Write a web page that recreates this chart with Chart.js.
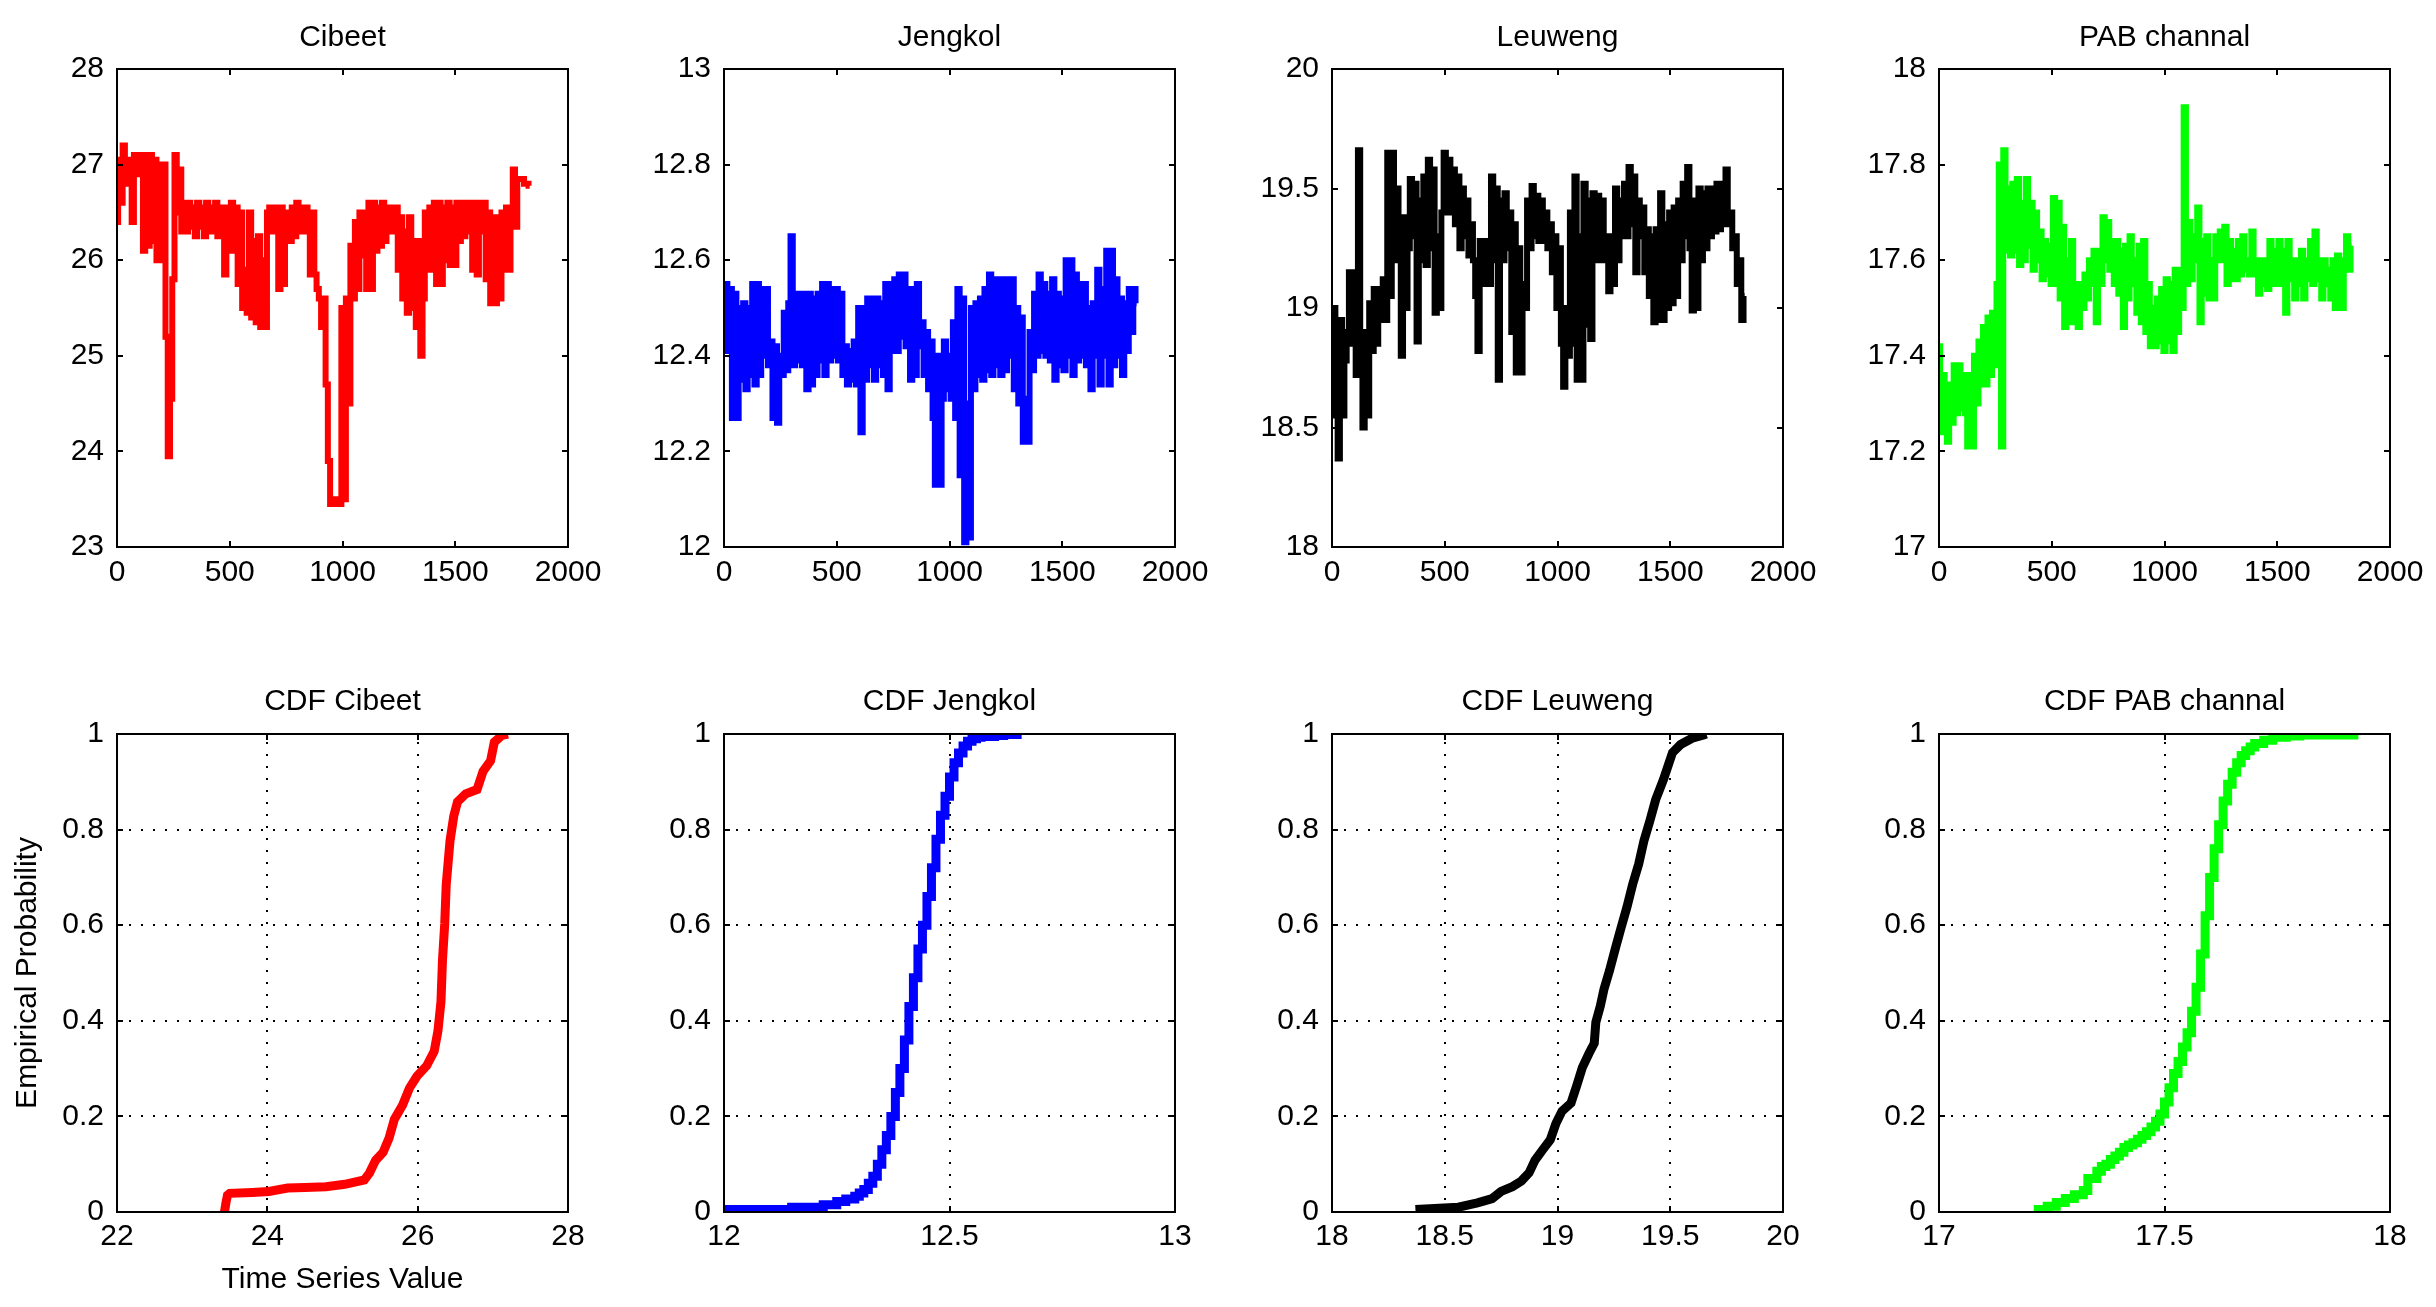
<!DOCTYPE html>
<html>
<head>
<meta charset="utf-8">
<script src="https://cdn.jsdelivr.net/npm/chart.js@4.4.1/dist/chart.umd.min.js"></script>
<style>
html, body { margin: 0; padding: 0; background: #ffffff; width: 2436px; height: 1307px; overflow: hidden; }
canvas { position: absolute; }
</style>
</head>
<body>
<script>
// ---------------- DATA ----------------
// Time series: one value every 10 samples, starting at sample 0
const sampleStep = 10;

const cibeetSeries = [
  26.4, 27.05, 26.6, 27.2, 26.8, 27.05, 26.8, 26.4, 27.1, 26.9,
  27.1, 26.9, 26.1, 27.1, 26.15, 27.1, 26.2, 27.05, 26.0, 27.0,
  26.0, 27.0, 25.2, 23.95, 24.55, 25.8, 27.1, 26.5, 26.95, 26.3,
  26.6, 26.3, 26.6, 26.35, 26.55, 26.25, 26.6, 26.35, 26.55, 26.25,
  26.6, 26.3, 26.55, 26.3, 26.6, 26.25, 26.55, 26.4, 25.85, 26.55,
  26.1, 26.6, 26.1, 26.55, 25.75, 26.5, 25.5, 25.9, 25.45, 26.5,
  25.4, 26.2, 25.35, 26.25, 25.3, 26.0, 25.3, 26.5, 26.55, 26.3,
  26.55, 26.35, 25.7, 26.55, 25.75, 26.5, 26.3, 26.2, 26.55, 26.25,
  26.6, 26.3, 26.55, 26.3, 26.55, 26.3, 25.85, 26.5, 25.85, 25.7,
  25.6, 25.3, 25.6, 24.7, 23.9, 23.45, 23.5, 23.45, 23.5, 23.45,
  25.5, 23.5, 25.6, 24.5, 26.15, 25.6, 26.4, 25.7, 26.5, 26.05,
  26.5, 25.7, 26.6, 25.7, 26.6, 26.1, 26.55, 26.15, 26.6, 26.2,
  26.55, 26.3, 26.55, 26.3, 26.55, 25.9, 26.45, 25.6, 26.3, 25.45,
  26.45, 25.5, 26.2, 25.3, 26.2, 25.0, 25.6, 26.5, 25.9, 26.55,
  25.9, 26.6, 25.75, 26.6, 25.75, 26.55, 26.0, 26.6, 25.95, 26.55,
  25.95, 26.6, 26.2, 26.6, 26.25, 26.6, 26.3, 26.6, 25.9, 26.6,
  25.85, 26.6, 26.3, 26.6, 25.8, 26.5, 25.55, 26.45, 25.55, 26.45,
  25.6, 26.5, 25.9, 26.55, 25.9, 26.5, 26.95, 26.35, 26.85, 26.85,
  26.85, 26.8, 26.8, 26.78
];

const jengkolSeries = [
  12.45, 12.55, 12.41, 12.54, 12.27, 12.53, 12.27, 12.5, 12.35, 12.51,
  12.33, 12.5, 12.36, 12.55, 12.34, 12.55, 12.36, 12.54, 12.4, 12.54,
  12.38, 12.43, 12.27, 12.42, 12.26, 12.4, 12.36, 12.49, 12.37, 12.51,
  12.65, 12.38, 12.53, 12.39, 12.53, 12.38, 12.53, 12.33, 12.53, 12.34,
  12.52, 12.36, 12.53, 12.39, 12.55, 12.36, 12.55, 12.39, 12.54, 12.4,
  12.54, 12.39, 12.53, 12.36, 12.42, 12.34, 12.41, 12.35, 12.43, 12.34,
  12.5, 12.24, 12.5, 12.35, 12.52, 12.38, 12.52, 12.35, 12.52, 12.38,
  12.51, 12.36, 12.55, 12.33, 12.55, 12.41, 12.56, 12.41, 12.57, 12.44,
  12.57, 12.42, 12.54, 12.35, 12.54, 12.36, 12.55, 12.42, 12.47, 12.36,
  12.45, 12.33, 12.43, 12.27, 12.13, 12.4, 12.13, 12.31, 12.43, 12.33,
  12.4, 12.31, 12.47, 12.27, 12.54, 12.15, 12.52, 12.01, 12.3, 12.02,
  12.5, 12.33, 12.51, 12.36, 12.52, 12.35, 12.54, 12.37, 12.57, 12.36,
  12.56, 12.38, 12.56, 12.36, 12.56, 12.37, 12.56, 12.4, 12.56, 12.33,
  12.5, 12.3, 12.48, 12.22, 12.31, 12.22, 12.45, 12.37, 12.53, 12.4,
  12.57, 12.41, 12.55, 12.4, 12.53, 12.39, 12.56, 12.35, 12.53, 12.38,
  12.52, 12.37, 12.6, 12.4, 12.6, 12.36, 12.57, 12.39, 12.55, 12.4,
  12.55, 12.38, 12.5, 12.33, 12.51, 12.4, 12.58, 12.34, 12.54, 12.4,
  12.62, 12.34, 12.62, 12.38, 12.56, 12.4, 12.52, 12.36, 12.51, 12.41,
  12.54, 12.45, 12.54, 12.51
];

const leuwengSeries = [
  18.62, 19.0, 18.55, 18.37, 18.95, 18.55, 18.78, 18.9, 19.15, 18.85,
  19.15, 18.72, 19.66, 18.72, 18.5, 18.9, 18.55, 19.02, 18.82, 19.08,
  18.85, 19.08, 18.95, 19.12, 18.95, 19.65, 19.05, 19.65, 19.2, 19.5,
  19.25, 18.8, 19.38, 19.0, 19.25, 19.54, 19.3, 19.52, 18.86, 19.45,
  19.2, 19.55, 19.18, 19.62, 19.25, 19.58, 18.98, 19.3, 19.0, 19.4,
  19.65, 19.4, 19.62, 19.4, 19.58, 19.35, 19.55, 19.25, 19.5, 19.3,
  19.45, 19.22, 19.35, 19.2, 19.05, 18.82, 19.28, 19.1, 19.28, 19.25,
  19.1, 19.55, 19.2, 19.5, 18.7, 19.45, 19.2, 19.48, 19.25, 19.4,
  18.9, 19.35, 18.73, 19.25, 18.73, 19.1, 19.0, 19.45, 19.25, 19.51,
  19.3, 19.47, 19.28, 19.45, 19.28, 19.4, 19.25, 19.35, 19.15, 19.3,
  19.0, 19.25, 18.85, 18.67, 19.0, 18.8, 19.4, 18.85, 19.55, 18.7,
  19.3, 18.7, 19.52, 18.93, 19.45, 18.87, 19.48, 19.2, 19.47, 19.2,
  19.45, 19.2, 19.3, 19.07, 19.3, 19.1, 19.5, 19.2, 19.45, 19.3,
  19.52, 19.3, 19.59, 19.35, 19.55, 19.15, 19.45, 19.3, 19.42, 19.15,
  19.33, 19.05, 19.3, 18.94, 19.33, 18.95, 19.48, 18.95, 19.35, 19.0,
  19.4, 19.02, 19.42, 19.05, 19.45, 19.2, 19.52, 19.3, 19.59, 19.25,
  18.99, 19.45, 19.0, 19.5, 19.2, 19.48, 19.25, 19.5, 19.3, 19.5,
  19.32, 19.52, 19.33, 19.52, 19.35, 19.58, 19.35, 19.4, 19.25, 19.3,
  19.1, 19.2, 18.95, 19.05
];

const pabSeries = [
  17.42, 17.24, 17.36, 17.26, 17.22, 17.34, 17.26, 17.38, 17.28, 17.38,
  17.29, 17.36, 17.28, 17.21, 17.36, 17.21, 17.4, 17.3, 17.43, 17.34,
  17.46, 17.34, 17.48, 17.36, 17.49, 17.38, 17.55, 17.8, 17.21, 17.83,
  17.62, 17.75, 17.61, 17.76, 17.62, 17.77, 17.59, 17.72, 17.6, 17.77,
  17.63, 17.72, 17.58, 17.7, 17.6, 17.66, 17.56, 17.64, 17.57, 17.63,
  17.55, 17.73, 17.55, 17.72, 17.52, 17.67, 17.46, 17.6, 17.47, 17.64,
  17.47, 17.55, 17.46, 17.55, 17.5, 17.57, 17.52, 17.6, 17.55, 17.62,
  17.47, 17.62, 17.55, 17.69, 17.6, 17.68, 17.58, 17.64, 17.55, 17.64,
  17.53, 17.62, 17.46, 17.63, 17.52, 17.65, 17.55, 17.6, 17.49, 17.63,
  17.47, 17.64, 17.45, 17.55, 17.42, 17.5, 17.42, 17.52, 17.43, 17.54,
  17.41, 17.56, 17.43, 17.55, 17.41, 17.58, 17.45, 17.58, 17.5, 17.92,
  17.55, 17.68, 17.56, 17.65, 17.6, 17.71, 17.47, 17.64, 17.53, 17.65,
  17.52, 17.6, 17.52, 17.65, 17.6, 17.66, 17.6, 17.67, 17.55, 17.64,
  17.56, 17.62, 17.56, 17.64, 17.57, 17.65, 17.58, 17.6, 17.57, 17.66,
  17.57, 17.6, 17.53, 17.6, 17.55, 17.6, 17.54, 17.64, 17.55, 17.62,
  17.55, 17.64, 17.55, 17.62, 17.49, 17.64, 17.56, 17.6, 17.52, 17.6,
  17.55, 17.62, 17.52, 17.6, 17.56, 17.64, 17.55, 17.66, 17.56, 17.6,
  17.52, 17.6, 17.55, 17.58, 17.52, 17.6, 17.5, 17.61, 17.53, 17.5,
  17.6, 17.65, 17.58, 17.63
];

// Empirical CDFs (value, probability)
const cdfCibeetX = [23.43, 23.45, 23.47, 23.5, 23.8, 24.02, 24.27, 24.5, 24.78, 25.03, 25.29, 25.36, 25.44, 25.54, 25.62, 25.69, 25.8, 25.89, 25.99, 26.12, 26.22, 26.27, 26.31, 26.33, 26.36, 26.38, 26.43, 26.48, 26.53, 26.64, 26.79, 26.87, 26.97, 27.02, 27.12, 27.2];
const cdfCibeetP = [0, 0.02, 0.035, 0.039, 0.041, 0.043, 0.05, 0.051, 0.053, 0.058, 0.067, 0.082, 0.108, 0.125, 0.155, 0.194, 0.224, 0.259, 0.284, 0.306, 0.336, 0.379, 0.44, 0.526, 0.603, 0.685, 0.776, 0.828, 0.858, 0.875, 0.884, 0.922, 0.944, 0.983, 0.997, 1.0];

const cdfJengkolX = [12.0, 12.15, 12.22, 12.25, 12.27, 12.29, 12.3, 12.31, 12.32, 12.33, 12.34, 12.35, 12.36, 12.37, 12.38, 12.39, 12.4, 12.41, 12.42, 12.43, 12.44, 12.45, 12.46, 12.47, 12.48, 12.49, 12.5, 12.51, 12.52, 12.53, 12.54, 12.55, 12.56, 12.57, 12.6, 12.62, 12.65];
const cdfJengkolP = [0.005, 0.01, 0.015, 0.022, 0.027, 0.033, 0.04, 0.047, 0.06, 0.075, 0.1, 0.13, 0.16, 0.2, 0.25, 0.3, 0.36, 0.43, 0.49, 0.55, 0.6, 0.66, 0.72, 0.78, 0.83, 0.87, 0.91, 0.94, 0.96, 0.975, 0.985, 0.99, 0.993, 0.995, 0.997, 0.999, 1.0];

const cdfLeuwengX = [18.37, 18.56, 18.645, 18.71, 18.75, 18.8, 18.84, 18.874, 18.9, 18.934, 18.968, 18.993, 19.02, 19.06, 19.087, 19.11, 19.14, 19.163, 19.17, 19.19, 19.206, 19.23, 19.257, 19.282, 19.308, 19.333, 19.36, 19.383, 19.41, 19.435, 19.47, 19.495, 19.51, 19.546, 19.597, 19.648, 19.66];
const cdfLeuwengP = [0.005, 0.01, 0.019, 0.028, 0.043, 0.053, 0.065, 0.082, 0.108, 0.13, 0.151, 0.185, 0.211, 0.228, 0.267, 0.302, 0.332, 0.353, 0.397, 0.431, 0.466, 0.504, 0.552, 0.595, 0.638, 0.685, 0.728, 0.776, 0.819, 0.862, 0.905, 0.94, 0.961, 0.978, 0.991, 0.998, 1.0];

const cdfPabX = [17.21, 17.24, 17.26, 17.28, 17.3, 17.32, 17.33, 17.35, 17.36, 17.37, 17.38, 17.39, 17.4, 17.41, 17.42, 17.43, 17.44, 17.45, 17.46, 17.47, 17.48, 17.49, 17.5, 17.51, 17.52, 17.53, 17.54, 17.55, 17.56, 17.57, 17.58, 17.59, 17.6, 17.61, 17.62, 17.63, 17.64, 17.65, 17.66, 17.67, 17.68, 17.69, 17.7, 17.72, 17.74, 17.77, 17.8, 17.92];
const cdfPabP = [0.005, 0.012, 0.02, 0.028, 0.036, 0.045, 0.07, 0.085, 0.095, 0.1, 0.11, 0.117, 0.125, 0.135, 0.14, 0.145, 0.152, 0.16, 0.168, 0.178, 0.19, 0.205, 0.23, 0.26, 0.29, 0.315, 0.345, 0.375, 0.42, 0.47, 0.54, 0.62, 0.7, 0.76, 0.81, 0.86, 0.895, 0.92, 0.94, 0.955, 0.965, 0.973, 0.98, 0.987, 0.993, 0.996, 0.998, 1.0];

// Titles and ticks
const seriesTitles = ['Cibeet', 'Jengkol', 'Leuweng', 'PAB channal'];
const cdfTitles = ['CDF Cibeet', 'CDF Jengkol', 'CDF Leuweng', 'CDF PAB channal'];
const tsXTicks = [0, 500, 1000, 1500, 2000];
const cibeetYTicks = [23, 24, 25, 26, 27, 28];
const jengkolYTicks = [12, 12.2, 12.4, 12.6, 12.8, 13];
const leuwengYTicks = [18, 18.5, 19, 19.5, 20];
const pabYTicks = [17, 17.2, 17.4, 17.6, 17.8, 18];
const cdfYTicks = [0, 0.2, 0.4, 0.6, 0.8, 1];
const cdfCibeetXTicks = [22, 24, 26, 28];
const cdfJengkolXTicks = [12, 12.5, 13];
const cdfLeuwengXTicks = [18, 18.5, 19, 19.5, 20];
const cdfPabXTicks = [17, 17.5, 18];
const cdfYLabel = 'Empirical Probability';
const cdfXLabel = 'Time Series Value';

// ---------------- DRAWING ----------------
const FONT = '"Liberation Sans", Arial, Helvetica, sans-serif';
const PLOT_W = 451, PLOT_H = 478;
const colLeft = [117, 724, 1332, 1939];
const rowTop = [69, 734];

const fmt = v => String(Math.round(v * 1000) / 1000);

const matlabAxes = {
  id: 'matlabAxes',
  beforeDatasetsDraw(chart, args, opts) {
    if (!opts.grid) return;
    const { ctx, chartArea: a } = chart;
    const xs = chart.scales.x, ys = chart.scales.y;
    ctx.save();
    ctx.strokeStyle = '#000';
    ctx.lineWidth = 2;
    ctx.setLineDash([2, 10]);
    xs.ticks.forEach(t => {
      const p = Math.round(xs.getPixelForValue(t.value));
      if (p > a.left + 3 && p < a.right - 3) {
        ctx.beginPath(); ctx.moveTo(p, a.bottom); ctx.lineTo(p, a.top); ctx.stroke();
      }
    });
    ys.ticks.forEach(t => {
      const p = Math.round(ys.getPixelForValue(t.value));
      if (p > a.top + 3 && p < a.bottom - 3) {
        ctx.beginPath(); ctx.moveTo(a.left, p); ctx.lineTo(a.right, p); ctx.stroke();
      }
    });
    ctx.restore();
  },
  afterDatasetsDraw(chart) {
    const { ctx, chartArea: a } = chart;
    const xs = chart.scales.x, ys = chart.scales.y;
    const tl = 6;
    ctx.save();
    ctx.strokeStyle = '#000';
    ctx.lineWidth = 2;
    ctx.setLineDash([]);
    ctx.strokeRect(a.left, a.top, a.right - a.left, a.bottom - a.top);
    ctx.beginPath();
    xs.ticks.forEach(t => {
      const p = Math.round(xs.getPixelForValue(t.value));
      ctx.moveTo(p, a.bottom); ctx.lineTo(p, a.bottom - tl);
      ctx.moveTo(p, a.top); ctx.lineTo(p, a.top + tl);
    });
    ys.ticks.forEach(t => {
      const p = Math.round(ys.getPixelForValue(t.value));
      ctx.moveTo(a.left, p); ctx.lineTo(a.left + tl, p);
      ctx.moveTo(a.right, p); ctx.lineTo(a.right - tl, p);
    });
    ctx.stroke();
    ctx.restore();
  }
};

function makePanel(cfg) {
  const padL = cfg.padL, padT = 70, padR = 60, padB = cfg.padB;
  const cw = PLOT_W + padL + padR, ch = PLOT_H + padT + padB;
  const c = document.createElement('canvas');
  c.width = cw; c.height = ch;
  c.style.width = cw + 'px'; c.style.height = ch + 'px';
  c.style.left = (cfg.left - padL) + 'px';
  c.style.top = (cfg.top - padT) + 'px';
  document.body.appendChild(c);
  const tickFont = { family: FONT, size: 30 };
  new Chart(c, {
    type: 'line',
    data: {
      datasets: [{
        data: cfg.points,
        borderColor: cfg.color,
        backgroundColor: cfg.color,
        borderWidth: cfg.lw,
        pointRadius: 0,
        tension: 0,
        fill: false,
        stepped: cfg.stepped,
        borderJoinStyle: 'miter',
        borderCapStyle: 'butt'
      }]
    },
    options: {
      responsive: false,
      animation: false,
      devicePixelRatio: 1,
      events: [],
      layout: { padding: { left: 0, right: padR, top: 0, bottom: 0 } },
      plugins: {
        legend: { display: false },
        tooltip: { enabled: false },
        title: {
          display: true, text: cfg.title, fullSize: false, color: '#000',
          font: { family: FONT, size: 30, weight: 'normal', lineHeight: 1.2 },
          padding: { top: cfg.titleTop, bottom: 34 - cfg.titleTop }
        },
        matlabAxes: { grid: cfg.grid }
      },
      scales: {
        x: {
          type: 'linear', min: cfg.xMin, max: cfg.xMax,
          afterBuildTicks: s => { s.ticks = cfg.xTicks.map(v => ({ value: v })); },
          afterFit: s => { s.height = padB; },
          grid: { display: false, drawTicks: false },
          border: { display: false },
          ticks: { padding: cfg.xPad, maxRotation: 0, minRotation: 0, autoSkip: false, color: '#000', font: tickFont, callback: fmt },
          title: cfg.xTitle ? { display: true, text: cfg.xTitle, color: '#000', font: { family: FONT, size: 30, lineHeight: 1.2 }, padding: { top: 0, bottom: 9 } } : { display: false }
        },
        y: {
          type: 'linear', min: cfg.yMin, max: cfg.yMax,
          afterBuildTicks: s => { s.ticks = cfg.yTicks.map(v => ({ value: v })); },
          afterFit: s => { s.width = padL; },
          grid: { display: false, drawTicks: false },
          border: { display: false },
          ticks: { padding: 13, autoSkip: false, color: '#000', font: tickFont, callback: fmt },
          title: cfg.yTitle ? { display: true, text: cfg.yTitle, color: '#000', font: { family: FONT, size: 30, lineHeight: 1.2 }, padding: { top: 10, bottom: 0 } } : { display: false }
        }
      }
    },
    plugins: [matlabAxes]
  });
}

const tsPoints = arr => arr.map((v, i) => ({ x: i * sampleStep, y: v }));
const cdfPoints = (xs, ps) => xs.map((x, i) => ({ x: x, y: ps[i] }));

const topPanels = [
  { series: cibeetSeries, color: '#ff0000', yMin: 23, yMax: 28, yTicks: cibeetYTicks },
  { series: jengkolSeries, color: '#0000ff', yMin: 12, yMax: 13, yTicks: jengkolYTicks },
  { series: leuwengSeries, color: '#000000', yMin: 18, yMax: 20, yTicks: leuwengYTicks },
  { series: pabSeries, color: '#00ff00', yMin: 17, yMax: 18, yTicks: pabYTicks }
];
topPanels.forEach((p, i) => makePanel({
  left: colLeft[i], top: rowTop[0], padL: i === 0 ? 117 : 110, padB: 60,
  points: tsPoints(p.series), color: p.color, lw: 6, stepped: 'middle',
  xMin: 0, xMax: 2000, xTicks: tsXTicks, yMin: p.yMin, yMax: p.yMax, yTicks: p.yTicks,
  title: seriesTitles[i], grid: false, titleTop: 21, xPad: 8
}));

const bottomPanels = [
  { xs: cdfCibeetX, ps: cdfCibeetP, color: '#ff0000', xMin: 22, xMax: 28, xTicks: cdfCibeetXTicks, stepped: false },
  { xs: cdfJengkolX, ps: cdfJengkolP, color: '#0000ff', xMin: 12, xMax: 13, xTicks: cdfJengkolXTicks, stepped: 'before' },
  { xs: cdfLeuwengX, ps: cdfLeuwengP, color: '#000000', xMin: 18, xMax: 20, xTicks: cdfLeuwengXTicks, stepped: false },
  { xs: cdfPabX, ps: cdfPabP, color: '#00ff00', xMin: 17, xMax: 18, xTicks: cdfPabXTicks, stepped: 'before' }
];
bottomPanels.forEach((p, i) => makePanel({
  left: colLeft[i], top: rowTop[1], padL: i === 0 ? 117 : 110, padB: i === 0 ? 95 : 60,
  points: cdfPoints(p.xs, p.ps), color: p.color, lw: 9, stepped: p.stepped,
  xMin: p.xMin, xMax: p.xMax, xTicks: p.xTicks, yMin: 0, yMax: 1, yTicks: cdfYTicks,
  title: cdfTitles[i], grid: true, titleTop: 20, xPad: 7,
  xTitle: i === 0 ? cdfXLabel : null, yTitle: i === 0 ? cdfYLabel : null
}));
</script>
</body>
</html>
